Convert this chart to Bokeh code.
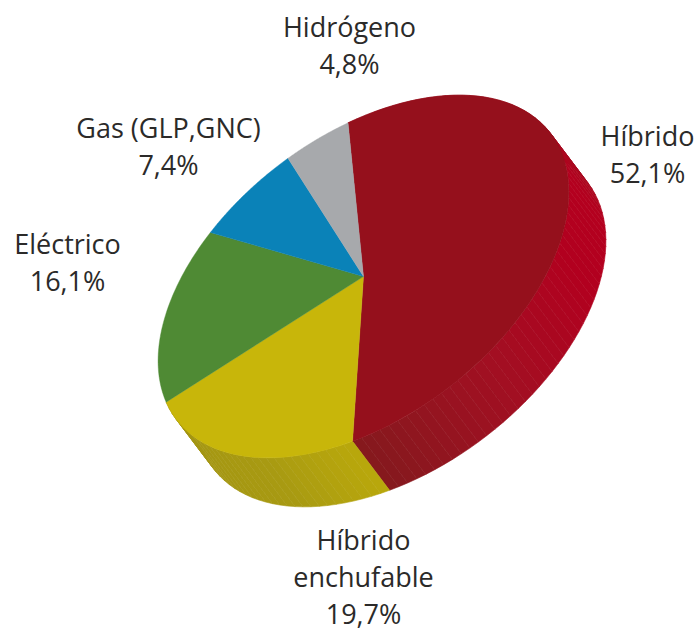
import numpy as np
from bokeh.plotting import figure
from bokeh.models import ColumnDataSource
from bokeh.core.properties import value
from bokeh.embed import file_html
from bokeh.resources import INLINE

categories = ["Híbrido", "Híbrido enchufable", "Eléctrico", "Gas (GLP,GNC)", "Hidrógeno"]
shares = [52.1, 19.7, 16.1, 7.4, 4.8]
top_colors = ["#95101c", "#c8b60a", "#4f8a34", "#0a82b8", "#a7a9ac"]
wall_stops = {
    0: ([-75, -10, 15, 40, 75, 116], ["#9a1020", "#a01020", "#b4001f", "#b2001f", "#a20f22", "#831a1d"]),
    1: ([116, 140, 186], ["#b8a70c", "#a89a12", "#a39513"]),
}
label_lines = [["Híbrido", "52,1%"], ["Híbrido", "enchufable", "19,7%"], ["Eléctrico", "16,1%"],
               ["Gas (GLP,GNC)", "7,4%"], ["Hidrógeno", "4,8%"]]
label_anchor = [(647, 135), (363, 539), (67, 243), (168, 127), (349, 26)]

# projection of the tilted disc
CX, CY = 363, 276
AX, BX, AY, BY = 192, 73, -136, 120
DX, DY = 37, 49
START = -73.5


def px(t):
    r = np.radians(t)
    return CX + AX * np.cos(r) + BX * np.sin(r), CY + AY * np.cos(r) + BY * np.sin(r)


def rgb(h):
    return np.array([int(h[i:i + 2], 16) for i in (1, 3, 5)], float)


def shade(t, stops):
    ts, cs = stops
    arr = np.array([rgb(c) for c in cs])
    v = [np.interp(t, ts, arr[:, k]) for k in range(3)]
    return "#%02x%02x%02x" % tuple(int(round(x)) for x in v)


p = figure(width=700, height=632, x_range=(0, 700), y_range=(632, 0), toolbar_location=None,
           output_backend="svg", min_border=0, outline_line_color=None, background_fill_color="white")
p.axis.visible = False
p.grid.visible = False

edges = START + np.concatenate([[0], np.cumsum(shares)]) * 3.6 / (sum(shares) / 100)

# walls
wx, wy, wc = [], [], []
for i, stops in wall_stops.items():
    steps = np.linspace(edges[i], edges[i + 1], max(int((edges[i + 1] - edges[i]) / 2.5), 2) + 1)
    for t0, t1 in zip(steps[:-1], steps[1:]):
        x0, y0 = px(t0)
        x1, y1 = px(t1)
        wx.append([x0, x1, x1 + DX, x0 + DX])
        wy.append([y0, y1, y1 + DY, y0 + DY])
        wc.append(shade((t0 + t1) / 2, stops))
p.patches("x", "y", source=ColumnDataSource(dict(x=wx, y=wy, c=wc)), fill_color="c", line_color="c", line_width=0.6)

# top face
fx, fy = [], []
for i in range(len(shares)):
    ts = np.linspace(edges[i], edges[i + 1], 90)
    x, y = px(ts)
    fx.append([CX] + list(x))
    fy.append([CY] + list(y))
p.patches("x", "y", source=ColumnDataSource(dict(x=fx, y=fy, c=top_colors, name=categories)),
          fill_color="c", line_color="c", line_width=0.4)

# labels
tx, ty, tt = [], [], []
for lines, (ax, ay) in zip(label_lines, label_anchor):
    for k, s in enumerate(lines):
        tx.append(ax)
        ty.append(ay + k * 37)
        tt.append(s)
p.text(tx, ty, text=tt, text_font=value("Open Sans"), text_font_size="27px", text_align="center",
       text_baseline="middle", text_color="#2b2a29")

open("out.html", "w").write(file_html(p, INLINE))
